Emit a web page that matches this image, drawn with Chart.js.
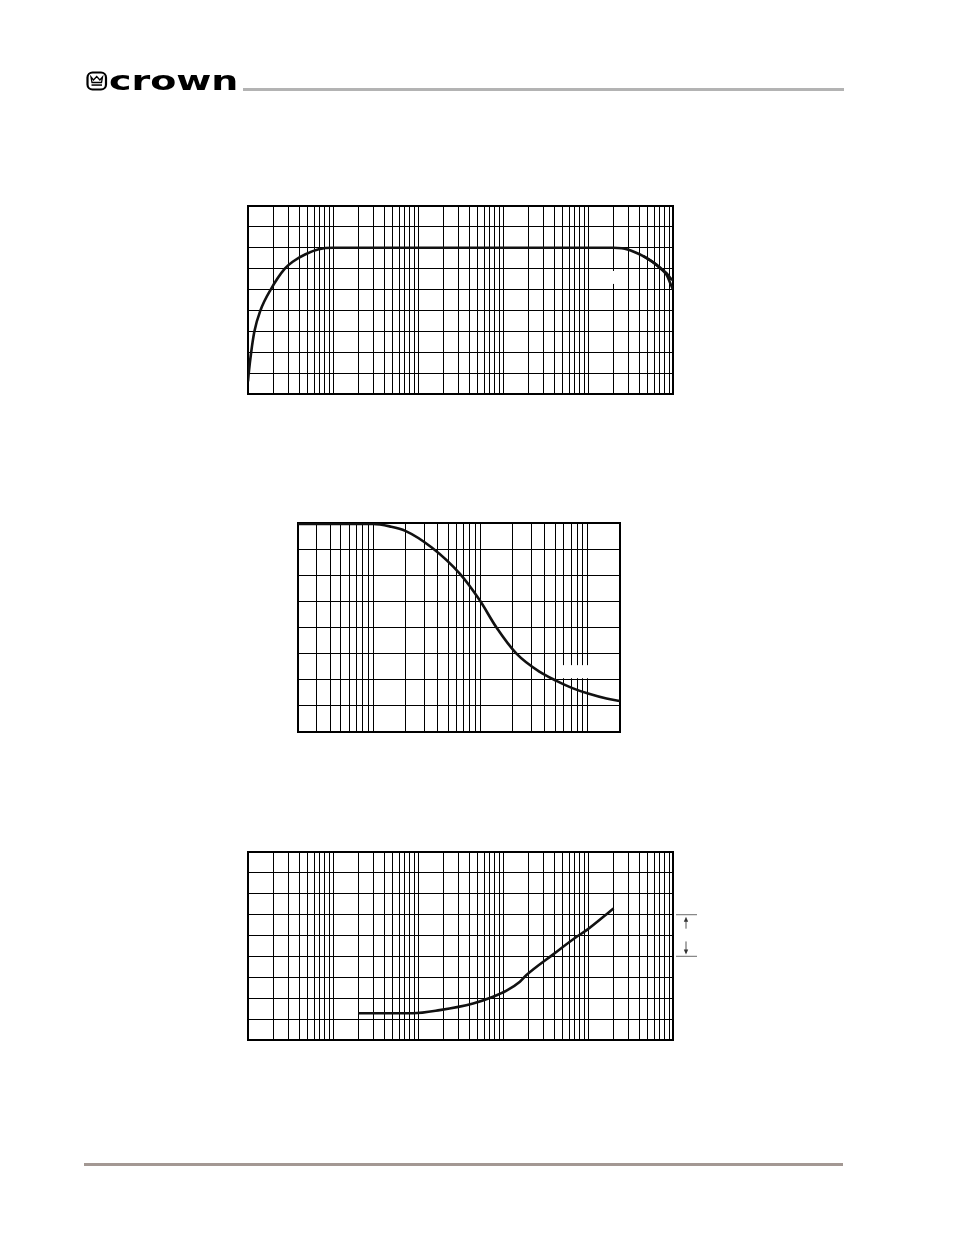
<!DOCTYPE html>
<html>
<head>
<meta charset="utf-8">
<script src="https://cdn.jsdelivr.net/npm/chart.js@4.4.1/dist/chart.umd.min.js"></script>
<style>
  html, body { margin: 0; padding: 0; background: #fff; }
  body { width: 954px; height: 1235px; position: relative; overflow: hidden; }
  canvas { position: absolute; }
  #page { left: 0; top: 0; }
  #respChart { left: 238px; top: 196px; }
  #dampChart { left: 288px; top: 513px; }
  #distChart { left: 238px; top: 842px; }
</style>
</head>
<body>
<canvas id="page" width="954" height="1235"></canvas>
<canvas id="respChart" width="445" height="208"></canvas>
<canvas id="dampChart" width="342" height="229"></canvas>
<canvas id="distChart" width="475" height="208"></canvas>
<script>
// frequency response (top graph), two channels split above ~50 kHz
const respFreq = [1, 1.02, 1.09, 1.19, 1.4, 1.85, 2.71, 3.46, 4.75, 6.8, 10, 20000, 25000, 30000, 34000, 44700, 58600, 70300, 84300, 94000, 100000];
const respLevel = [-6.4, -6.0, -5.0, -4.0, -3.0, -2.0, -1.0, -0.63, -0.31, -0.07, 0, 0, -0.02, -0.1, -0.18, -0.4, -0.7, -0.95, -1.23, -1.47, -1.55];
const respFreqB = [44700, 58600, 70300, 84300, 94000, 100000];
const respLevelB = [-0.4, -0.7, -0.97, -1.31, -1.75, -2.0];

// middle graph
const dampFreq = [20, 100, 143, 200, 350, 643, 987, 1413, 2170, 3578, 5120, 7310, 10090, 14970, 20000];
const dampValue = [7.96, 7.96, 7.87, 7.70, 7.07, 6.06, 5.04, 4.00, 3.00, 2.30, 1.96, 1.67, 1.47, 1.28, 1.19];

// bottom graph
const distFreq = [20, 87, 180, 445, 765, 1100, 1580, 1890, 3900, 7350, 9640, 20000];
const distValue = [1.28, 1.28, 1.43, 1.75, 2.07, 2.36, 2.79, 3.11, 4.10, 4.94, 5.26, 6.30];

const decadeSteps = [1, 2, 3, 4, 5, 6, 7, 8, 9];

function logGrid(min, max) {
    const out = [];
    for (let e = Math.floor(Math.log10(min)); e <= Math.ceil(Math.log10(max)); e++) {
        decadeSteps.forEach((s) => {
            const v = s * Math.pow(10, e);
            if (v >= min * 0.999 && v <= max * 1.001) out.push(v);
        });
    }
    return out;
}

function pts(xs, ys) {
    return xs.map((x, i) => ({ x: x, y: ys[i] }));
}

function curve(data) {
    return {
        data: data,
        borderColor: "#111",
        borderWidth: 2.6,
        pointRadius: 0,
        cubicInterpolationMode: "monotone",
        fill: false,
    };
}

// black frame round the plot area plus the little white patches left in the grid
function framePlugin(gaps) {
    return {
        id: "frame",
        beforeDatasetsDraw(chart) {
            const ctx = chart.ctx;
            const xs = chart.scales.x, ys = chart.scales.y;
            ctx.save();
            ctx.fillStyle = "#fff";
            (gaps || []).forEach((g) => {
                const x1 = xs.getPixelForValue(g[0]), x2 = xs.getPixelForValue(g[1]);
                const y1 = ys.getPixelForValue(g[2]), y2 = ys.getPixelForValue(g[3]);
                ctx.fillRect(x1, y1, x2 - x1, y2 - y1);
            });
            const a = chart.chartArea;
            ctx.strokeStyle = "#000";
            ctx.lineWidth = 2;
            ctx.strokeRect(a.left, a.top, a.right - a.left, a.bottom - a.top);
            ctx.restore();
        },
    };
}

function options(xmin, xmax, ymin, ymax, padRight) {
    return {
        responsive: false,
        animation: false,
        events: [],
        layout: { padding: { left: 10, top: 10, bottom: 10, right: padRight || 10 } },
        plugins: { legend: { display: false }, tooltip: { enabled: false } },
        scales: {
            x: {
                type: "logarithmic",
                min: xmin,
                max: xmax,
                afterBuildTicks(scale) {
                    scale.ticks = logGrid(xmin, xmax).map((v) => ({ value: v }));
                },
                ticks: { display: false },
                grid: { color: "#000", lineWidth: 1, drawTicks: false },
                border: { display: false },
            },
            y: {
                type: "linear",
                min: ymin,
                max: ymax,
                ticks: { display: false, stepSize: 1 },
                grid: { color: "#000", lineWidth: 1, drawTicks: false },
                border: { display: false },
            },
        },
    };
}

// level-difference marker at the right of the bottom graph
const markerPlugin = {
    id: "marker",
    afterDraw(chart) {
        const ctx = chart.ctx;
        const a = chart.chartArea;
        const yTop = chart.scales.y.getPixelForValue(6);
        const yBot = chart.scales.y.getPixelForValue(4);
        const x0 = a.right + 3, x1 = a.right + 24, xm = a.right + 13;
        ctx.save();
        ctx.strokeStyle = "#888";
        ctx.lineWidth = 1.2;
        ctx.beginPath();
        ctx.moveTo(x0, yTop); ctx.lineTo(x1, yTop);
        ctx.moveTo(x0, yBot); ctx.lineTo(x1, yBot);
        ctx.stroke();
        ctx.strokeStyle = "#555";
        ctx.fillStyle = "#333";
        ctx.lineWidth = 1;
        ctx.beginPath();
        ctx.moveTo(xm, yTop + 5); ctx.lineTo(xm, yTop + 14);
        ctx.moveTo(xm, yBot - 5); ctx.lineTo(xm, yBot - 15);
        ctx.stroke();
        ctx.beginPath();
        ctx.moveTo(xm, yTop + 2); ctx.lineTo(xm - 2.2, yTop + 7); ctx.lineTo(xm + 2.2, yTop + 7); ctx.closePath();
        ctx.moveTo(xm, yBot - 2); ctx.lineTo(xm - 2.2, yBot - 7); ctx.lineTo(xm + 2.2, yBot - 7); ctx.closePath();
        ctx.fill();
        ctx.restore();
    },
};

function drawPage() {
    const ctx = document.getElementById("page").getContext("2d");
    // header rule and footer rule
    ctx.fillStyle = "#b3b3b3";
    ctx.fillRect(243, 88, 601, 3);
    ctx.fillStyle = "#a39893";
    ctx.fillRect(84, 1163, 759, 3);

    // logo badge
    ctx.strokeStyle = "#000";
    ctx.lineWidth = 2.2;
    ctx.beginPath();
    ctx.roundRect(87.5, 72.5, 18.5, 17, 5);
    ctx.stroke();
    ctx.lineWidth = 1.3;
    ctx.beginPath();
    ctx.moveTo(91, 77); ctx.lineTo(93.5, 80); ctx.lineTo(96.7, 76.5);
    ctx.lineTo(99.9, 80); ctx.lineTo(102.5, 77); ctx.lineTo(101.5, 82.5);
    ctx.lineTo(92, 82.5); ctx.closePath();
    ctx.stroke();
    ctx.fillStyle = "#000";
    ctx.fillRect(91.5, 84.3, 10.5, 1.5);

    // wordmark
    ctx.save();
    ctx.translate(109, 89.5);
    ctx.scale(1.46, 1);
    ctx.font = "bold 26px 'DejaVu Sans'";
    ctx.textBaseline = "alphabetic";
    ctx.fillText("crown", 0, 0);
    ctx.restore();
}

document.addEventListener("DOMContentLoaded", function () {
    drawPage();

    new Chart(document.getElementById("respChart"), {
        type: "line",
        data: {
            datasets: [
                curve(pts(respFreq, respLevel)),
                curve(pts(respFreqB, respLevelB)),
            ],
        },
        options: options(1, 100000, -7, 2),
        plugins: [framePlugin([[18700, 21400, -1.11, -1.73]])],
    });

    new Chart(document.getElementById("dampChart"), {
        type: "line",
        data: { datasets: [curve(pts(dampFreq, dampValue))] },
        options: options(20, 20000, 0, 8),
        plugins: [framePlugin([[5614, 10460, 2.56, 2.06]])],
    });

    new Chart(document.getElementById("distChart"), {
        type: "line",
        data: { datasets: [curve(pts(distFreq, distValue))] },
        options: options(1, 100000, 0, 9, 40),
        plugins: [framePlugin([]), markerPlugin],
    });
});
</script>
</body>
</html>
